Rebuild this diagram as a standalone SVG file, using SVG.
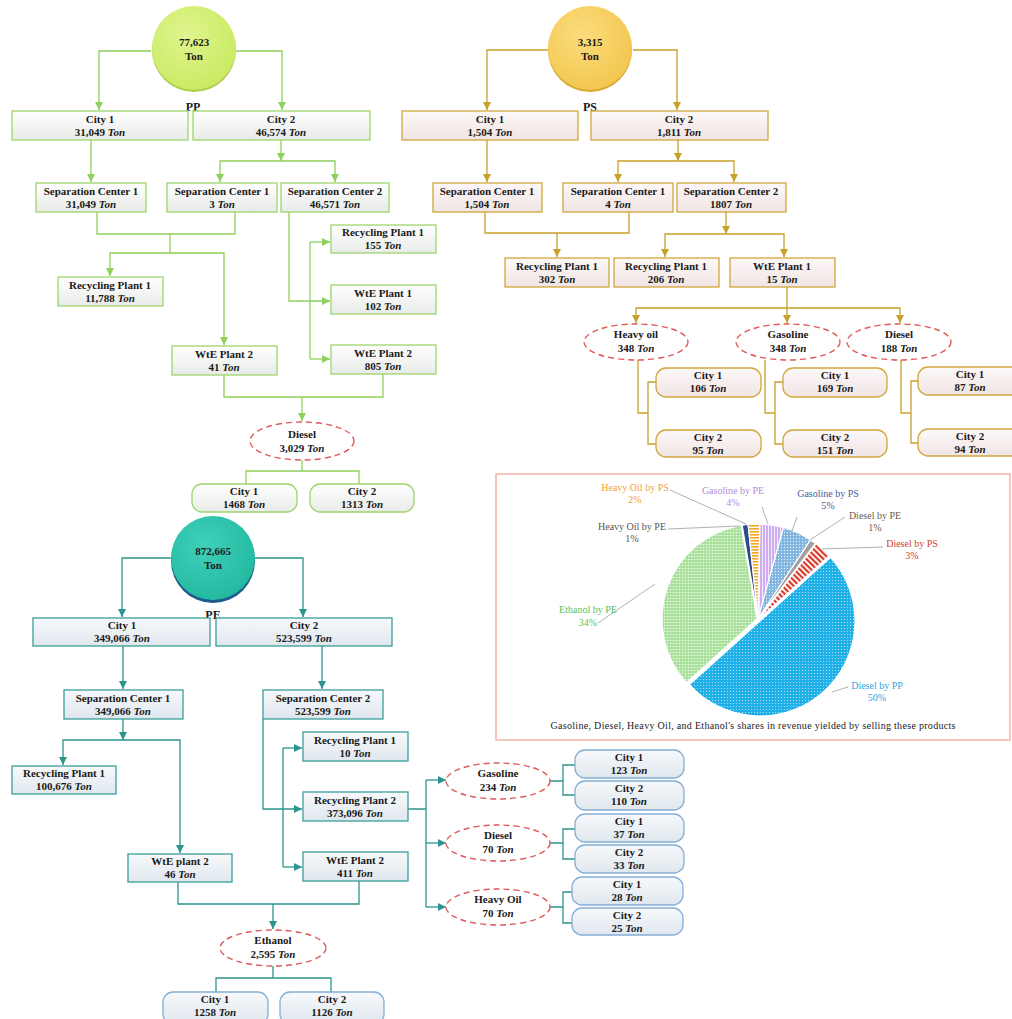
<svg xmlns="http://www.w3.org/2000/svg" width="1012" height="1019" viewBox="0 0 1012 1019">
<style>
.t{font-family:"Liberation Serif","Times New Roman",serif;font-weight:bold;font-size:11px;text-anchor:middle;fill:#1a1a1a}
.i{font-style:italic}
.lbl{font-family:"Liberation Serif","Times New Roman",serif;font-weight:bold;font-size:12px;text-anchor:middle;fill:#1a1a1a}
.pl{font-family:"Liberation Serif","Times New Roman",serif;font-size:10px;text-anchor:middle}
.bpp{fill:url(#gPP);stroke:#9fd46c;stroke-width:1.3}
.bps{fill:url(#gPS);stroke:#d2a63a;stroke-width:1.3}
.bpe{fill:url(#gPE);stroke:#3a9e9a;stroke-width:1.3}
.rpp{fill:url(#gPP);stroke:#9fd46c;stroke-width:1.3}
.rps{fill:url(#gPS);stroke:#d2a63a;stroke-width:1.3}
.rpe{fill:url(#gPE);stroke:#84aed6;stroke-width:1.3}
.cpp{fill:none;stroke:#8fd05a;stroke-width:1.3}
.cps{fill:none;stroke:#c9a02a;stroke-width:1.3}
.cpe{fill:none;stroke:#2b958d;stroke-width:1.3}
.ell{fill:#fff;stroke:#e05a5a;stroke-width:1.4;stroke-dasharray:6 4}
.lead{fill:none;stroke:#a8a8a8;stroke-width:0.9}
.sl{stroke:#fff;stroke-width:1.2}
</style>
<defs>
<linearGradient id="gPP" x1="0" y1="0" x2="0" y2="1"><stop offset="0" stop-color="#ffffff"/><stop offset="1" stop-color="#e8ebe8"/></linearGradient>
<linearGradient id="gPS" x1="0" y1="0" x2="0" y2="1"><stop offset="0" stop-color="#fdf8f8"/><stop offset="1" stop-color="#f0e4e4"/></linearGradient>
<linearGradient id="gPE" x1="0" y1="0" x2="0" y2="1"><stop offset="0" stop-color="#f7f9fb"/><stop offset="1" stop-color="#dfe7ee"/></linearGradient>
<radialGradient id="cPP" cx="0.4" cy="0.35" r="0.7"><stop offset="0" stop-color="#dff58e"/><stop offset="1" stop-color="#c9ea62"/></radialGradient>
<radialGradient id="cPS" cx="0.4" cy="0.35" r="0.7"><stop offset="0" stop-color="#fbdc7c"/><stop offset="1" stop-color="#f2c64e"/></radialGradient>
<radialGradient id="cPE" cx="0.4" cy="0.35" r="0.7"><stop offset="0" stop-color="#3fd0b8"/><stop offset="1" stop-color="#22b8a0"/></radialGradient>
<marker id="aPP" viewBox="0 0 10 10" refX="10" refY="5" markerWidth="8" markerHeight="8" orient="auto" markerUnits="userSpaceOnUse"><path d="M0,0L10,5L0,10z" fill="#8fd05a"/></marker>
<marker id="aPS" viewBox="0 0 10 10" refX="10" refY="5" markerWidth="8" markerHeight="8" orient="auto" markerUnits="userSpaceOnUse"><path d="M0,0L10,5L0,10z" fill="#c9a02a"/></marker>
<marker id="aPE" viewBox="0 0 10 10" refX="10" refY="5" markerWidth="8" markerHeight="8" orient="auto" markerUnits="userSpaceOnUse"><path d="M0,0L10,5L0,10z" fill="#2b958d"/></marker>
<pattern id="pPP" width="3" height="3" patternUnits="userSpaceOnUse"><rect width="3" height="3" fill="#1fb0e8"/><circle cx="1.5" cy="1.5" r="0.6" fill="#bfe8f8"/></pattern>
<pattern id="pEth" width="3" height="3" patternUnits="userSpaceOnUse"><rect width="3" height="3" fill="#a8e09a"/><circle cx="1.5" cy="1.5" r="0.8" fill="#f2fbef"/></pattern>
<pattern id="pGPS" width="3" height="3" patternUnits="userSpaceOnUse"><rect width="3" height="3" fill="#7fb4df"/><circle cx="1.5" cy="1.5" r="0.7" fill="#e8f2fb"/></pattern>
<pattern id="pGPE" width="3" height="3" patternUnits="userSpaceOnUse"><rect width="3" height="3" fill="#cfaef0"/><rect width="1" height="3" fill="#f4ecfc"/></pattern>
<pattern id="pHPS" width="3" height="3" patternUnits="userSpaceOnUse"><rect width="3" height="3" fill="#fff"/><rect width="3" height="1.6" fill="#f5a623"/></pattern>
<pattern id="pDPS" width="4" height="4" patternUnits="userSpaceOnUse" patternTransform="rotate(45)"><rect width="4" height="4" fill="#fff"/><rect width="4" height="2.2" fill="#d83a2a"/></pattern>
</defs>
<rect width="1012" height="1019" fill="#fff"/>

<g id="connectors">
<path class="cpp" d="M151,51H99V110" marker-end="url(#aPP)"/>
<path class="cpp" d="M235,51H282V110" marker-end="url(#aPP)"/>
<path class="cpp" d="M91,140V182" marker-end="url(#aPP)"/>
<path class="cpp" d="M281,140V161" marker-end="url(#aPP)"/>
<path class="cpp" d="M281,161H220V182" marker-end="url(#aPP)"/>
<path class="cpp" d="M281,161H335V182" marker-end="url(#aPP)"/>
<path class="cpp" d="M97,212V234H235V212"/>
<path class="cpp" d="M170,234V253H110V276" marker-end="url(#aPP)"/>
<path class="cpp" d="M170,253H224V345" marker-end="url(#aPP)"/>
<path class="cpp" d="M289,212V301H330" marker-end="url(#aPP)"/>
<path class="cpp" d="M310,242V359"/>
<path class="cpp" d="M310,242H330" marker-end="url(#aPP)"/>
<path class="cpp" d="M310,359H330" marker-end="url(#aPP)"/>
<path class="cpp" d="M224,375V397H383V374"/>
<path class="cpp" d="M302,397V421" marker-end="url(#aPP)"/>
<path class="cpp" d="M302,460V471M246,484V471H359V484"/>
<path class="cps" d="M548,50H487V110" marker-end="url(#aPS)"/>
<path class="cps" d="M633,50H677V110" marker-end="url(#aPS)"/>
<path class="cps" d="M487,140V182" marker-end="url(#aPS)"/>
<path class="cps" d="M678,140V161" marker-end="url(#aPS)"/>
<path class="cps" d="M678,161H618V182" marker-end="url(#aPS)"/>
<path class="cps" d="M678,161H734V182" marker-end="url(#aPS)"/>
<path class="cps" d="M485,212V233H629V212"/>
<path class="cps" d="M557,233V257" marker-end="url(#aPS)"/>
<path class="cps" d="M726,212V234" marker-end="url(#aPS)"/>
<path class="cps" d="M726,234H665V257" marker-end="url(#aPS)"/>
<path class="cps" d="M726,234H784V257" marker-end="url(#aPS)"/>
<path class="cps" d="M787,287V308"/>
<path class="cps" d="M787,308H636V323" marker-end="url(#aPS)"/>
<path class="cps" d="M787,308V323" marker-end="url(#aPS)"/>
<path class="cps" d="M787,308H900V323" marker-end="url(#aPS)"/>
<path class="cps" d="M638,360V413H648M656,382H648V444H656"/>
<path class="cps" d="M765,360V413H775M783,382H775V444H783"/>
<path class="cps" d="M901,360V413H911M918,381H911V443H918"/>
<path class="cpe" d="M171,558H122V617" marker-end="url(#aPE)"/>
<path class="cpe" d="M255,558H303V617" marker-end="url(#aPE)"/>
<path class="cpe" d="M123,646V689" marker-end="url(#aPE)"/>
<path class="cpe" d="M322,646V689" marker-end="url(#aPE)"/>
<path class="cpe" d="M123,719V740" marker-end="url(#aPE)"/>
<path class="cpe" d="M123,740H63V765" marker-end="url(#aPE)"/>
<path class="cpe" d="M123,740H180V853" marker-end="url(#aPE)"/>
<path class="cpe" d="M263,719V809H302" marker-end="url(#aPE)"/>
<path class="cpe" d="M283,748V867"/>
<path class="cpe" d="M283,748H302" marker-end="url(#aPE)"/>
<path class="cpe" d="M283,867H302" marker-end="url(#aPE)"/>
<path class="cpe" d="M408,809H426M426,780V907"/>
<path class="cpe" d="M426,780H446" marker-end="url(#aPE)"/>
<path class="cpe" d="M426,843H446" marker-end="url(#aPE)"/>
<path class="cpe" d="M426,907H446" marker-end="url(#aPE)"/>
<path class="cpe" d="M550,781H563M575,765H563V795H575"/>
<path class="cpe" d="M550,843H563M575,829H563V859H575"/>
<path class="cpe" d="M550,907H563M572,892H563V923H572"/>
<path class="cpe" d="M178,882V904H359V881"/>
<path class="cpe" d="M273,904V929" marker-end="url(#aPE)"/>
<path class="cpe" d="M273,966V978M216,992V978H331V992"/>
</g>

<g id="pp_source"><circle cx="194" cy="50" r="42" fill="#b0cc4c"/><circle cx="194" cy="48" r="42" fill="url(#cPP)"/><text class="t" x="194" y="46">77,623</text><text class="t" x="194" y="60">Ton</text><text class="lbl" x="193" y="111">PP</text></g>
<g id="pp_city1"><rect class="bpp" x="12" y="111" width="176" height="29"/><text class="t" x="100" y="123">City 1</text><text class="t" x="100" y="136">31,049 <tspan class="i">Ton</tspan></text></g>
<g id="pp_city2"><rect class="bpp" x="193" y="111" width="177" height="29"/><text class="t" x="281" y="123">City 2</text><text class="t" x="281" y="136">46,574 <tspan class="i">Ton</tspan></text></g>
<g id="pp_sc1a"><rect class="bpp" x="36" y="183" width="110" height="29"/><text class="t" x="91" y="195">Separation Center 1</text><text class="t" x="91" y="208">31,049 <tspan class="i">Ton</tspan></text></g>
<g id="pp_sc1b"><rect class="bpp" x="167" y="183" width="110" height="29"/><text class="t" x="222" y="195">Separation Center 1</text><text class="t" x="222" y="208">3 <tspan class="i">Ton</tspan></text></g>
<g id="pp_sc2"><rect class="bpp" x="281" y="183" width="108" height="29"/><text class="t" x="335" y="195">Separation Center 2</text><text class="t" x="335" y="208">46,571 <tspan class="i">Ton</tspan></text></g>
<g id="pp_rp1a"><rect class="bpp" x="58" y="277" width="105" height="29"/><text class="t" x="110" y="289">Recycling Plant 1</text><text class="t" x="110" y="302">11,788 <tspan class="i">Ton</tspan></text></g>
<g id="pp_wte2a"><rect class="bpp" x="172" y="346" width="105" height="29"/><text class="t" x="224" y="358">WtE Plant 2</text><text class="t" x="224" y="371">41 <tspan class="i">Ton</tspan></text></g>
<g id="pp_rp1b"><rect class="bpp" x="331" y="225" width="105" height="28"/><text class="t" x="383" y="236">Recycling Plant 1</text><text class="t" x="383" y="249">155 <tspan class="i">Ton</tspan></text></g>
<g id="pp_wte1"><rect class="bpp" x="331" y="285" width="105" height="29"/><text class="t" x="383" y="297">WtE Plant 1</text><text class="t" x="383" y="310">102 <tspan class="i">Ton</tspan></text></g>
<g id="pp_wte2b"><rect class="bpp" x="331" y="345" width="105" height="29"/><text class="t" x="383" y="357">WtE Plant 2</text><text class="t" x="383" y="370">805 <tspan class="i">Ton</tspan></text></g>
<g id="pp_diesel"><ellipse class="ell" cx="302" cy="441" rx="52" ry="19"/><text class="t" x="302" y="438">Diesel</text><text class="t" x="302" y="452">3,029 <tspan class="i">Ton</tspan></text></g>
<g id="pp_dc1"><rect class="rpp" x="192" y="484" width="105" height="28" rx="10"/><text class="t" x="244" y="495">City 1</text><text class="t" x="244" y="508">1468 <tspan class="i">Ton</tspan></text></g>
<g id="pp_dc2"><rect class="rpp" x="310" y="484" width="104" height="28" rx="10"/><text class="t" x="362" y="495">City 2</text><text class="t" x="362" y="508">1313 <tspan class="i">Ton</tspan></text></g>

<g id="ps_source"><circle cx="590" cy="50" r="42" fill="#d9a830"/><circle cx="590" cy="48" r="42" fill="url(#cPS)"/><text class="t" x="590" y="46">3,315</text><text class="t" x="590" y="60">Ton</text><text class="lbl" x="590" y="111">PS</text></g>
<g id="ps_city1"><rect class="bps" x="402" y="111" width="176" height="29"/><text class="t" x="490" y="123">City 1</text><text class="t" x="490" y="136">1,504 <tspan class="i">Ton</tspan></text></g>
<g id="ps_city2"><rect class="bps" x="591" y="111" width="177" height="29"/><text class="t" x="679" y="123">City 2</text><text class="t" x="679" y="136">1,811 <tspan class="i">Ton</tspan></text></g>
<g id="ps_sc1a"><rect class="bps" x="433" y="183" width="109" height="29"/><text class="t" x="487" y="195">Separation Center 1</text><text class="t" x="487" y="208">1,504 <tspan class="i">Ton</tspan></text></g>
<g id="ps_sc1b"><rect class="bps" x="563" y="183" width="110" height="29"/><text class="t" x="618" y="195">Separation Center 1</text><text class="t" x="618" y="208">4 <tspan class="i">Ton</tspan></text></g>
<g id="ps_sc2"><rect class="bps" x="677" y="183" width="109" height="29"/><text class="t" x="731" y="195">Separation Center 2</text><text class="t" x="731" y="208">1807 <tspan class="i">Ton</tspan></text></g>
<g id="ps_rp1a"><rect class="bps" x="505" y="258" width="104" height="29"/><text class="t" x="557" y="270">Recycling Plant 1</text><text class="t" x="557" y="283">302 <tspan class="i">Ton</tspan></text></g>
<g id="ps_rp1b"><rect class="bps" x="614" y="258" width="105" height="29"/><text class="t" x="666" y="270">Recycling Plant 1</text><text class="t" x="666" y="283">206 <tspan class="i">Ton</tspan></text></g>
<g id="ps_wte1"><rect class="bps" x="730" y="258" width="105" height="29"/><text class="t" x="782" y="270">WtE Plant 1</text><text class="t" x="782" y="283">15 <tspan class="i">Ton</tspan></text></g>
<g id="ps_heavy"><ellipse class="ell" cx="636" cy="342" rx="52" ry="18"/><text class="t" x="636" y="338">Heavy oil</text><text class="t" x="636" y="352">348 <tspan class="i">Ton</tspan></text></g>
<g id="ps_gasoline"><ellipse class="ell" cx="788" cy="342" rx="52" ry="18"/><text class="t" x="788" y="338">Gasoline</text><text class="t" x="788" y="352">348 <tspan class="i">Ton</tspan></text></g>
<g id="ps_diesel"><ellipse class="ell" cx="899" cy="342" rx="52" ry="18"/><text class="t" x="899" y="338">Diesel</text><text class="t" x="899" y="352">188 <tspan class="i">Ton</tspan></text></g>
<g id="ps_h1"><rect class="rps" x="656" y="368" width="105" height="29" rx="10"/><text class="t" x="708" y="379">City 1</text><text class="t" x="708" y="392">106 <tspan class="i">Ton</tspan></text></g>
<g id="ps_h2"><rect class="rps" x="656" y="430" width="105" height="27" rx="10"/><text class="t" x="708" y="441">City 2</text><text class="t" x="708" y="454">95 <tspan class="i">Ton</tspan></text></g>
<g id="ps_g1"><rect class="rps" x="783" y="368" width="104" height="29" rx="10"/><text class="t" x="835" y="379">City 1</text><text class="t" x="835" y="392">169 <tspan class="i">Ton</tspan></text></g>
<g id="ps_g2"><rect class="rps" x="783" y="430" width="104" height="27" rx="10"/><text class="t" x="835" y="441">City 2</text><text class="t" x="835" y="454">151 <tspan class="i">Ton</tspan></text></g>
<g id="ps_d1"><rect class="rps" x="918" y="367" width="104" height="28" rx="10"/><text class="t" x="970" y="378">City 1</text><text class="t" x="970" y="391">87 <tspan class="i">Ton</tspan></text></g>
<g id="ps_d2"><rect class="rps" x="918" y="429" width="104" height="27" rx="10"/><text class="t" x="970" y="440">City 2</text><text class="t" x="970" y="453">94 <tspan class="i">Ton</tspan></text></g>

<g id="pie_chart">
<rect x="496" y="474" width="514" height="266" fill="#fff" stroke="#f4b4a4" stroke-width="1.5"/>
<path class="sl" fill="url(#pPP)" d="M760,621L830.6,557.4A95,95 0 0 1 689.4,684.6Z"/>
<path class="sl" fill="url(#pEth)" d="M757,619L686.4,682.6A95,95 0 0 1 741.2,525.3Z"/>
<path class="sl" fill="#2e4a8a" d="M758,619L742.2,525.3A95,95 0 0 1 748.1,524.5Z"/>
<path class="sl" fill="url(#pHPS)" d="M758,619L748.1,524.5A95,95 0 0 1 760,524Z"/>
<path class="sl" fill="url(#pGPE)" d="M758,619L760,524A95,95 0 0 1 783.5,527.5Z"/>
<path class="sl" fill="url(#pGPS)" d="M758,619L783.5,527.5A95,95 0 0 1 810.6,539.9Z"/>
<path class="sl" fill="#a0a0a0" d="M758,619L810.6,539.9A95,95 0 0 1 815.4,543.3Z"/>
<path class="sl" fill="url(#pDPS)" d="M759,619L816.4,543.3A95,95 0 0 1 829.6,555.4Z"/>
<path class="lead" d="M670,490L746,524"/>
<path class="lead" d="M762,507L768,524"/>
<path class="lead" d="M797,517L792,531"/>
<path class="lead" d="M845,517L810,540"/>
<path class="lead" d="M883,547L822,549"/>
<path class="lead" d="M668,529L740,526"/>
<path class="lead" d="M598,623L655,584"/>
<path class="lead" d="M848,687L832,692"/>
<text class="pl" x="635" y="491" fill="#f3a02e">Heavy Oil  by PS</text><text class="pl" x="635" y="503" fill="#f3a02e">2%</text>
<text class="pl" x="733" y="494" fill="#b58ad8">Gasoline  by PE</text><text class="pl" x="733" y="506" fill="#b58ad8">4%</text>
<text class="pl" x="828" y="497" fill="#4b5a9e">Gasoline  by PS</text><text class="pl" x="828" y="509" fill="#4b5a9e">5%</text>
<text class="pl" x="875" y="519" fill="#6b5b4b">Diesel by PE</text><text class="pl" x="875" y="531" fill="#6b5b4b">1%</text>
<text class="pl" x="912" y="547" fill="#d04030">Diesel by PS</text><text class="pl" x="912" y="559" fill="#d04030">3%</text>
<text class="pl" x="632" y="530" fill="#555">Heavy Oil  by PE</text><text class="pl" x="632" y="542" fill="#555">1%</text>
<text class="pl" x="588" y="613" fill="#5cbf5c">Ethanol by PE</text><text class="pl" x="588" y="626" fill="#5cbf5c">34%</text>
<text class="pl" x="877" y="689" fill="#2ea6e0">Diesel by PP</text><text class="pl" x="877" y="701" fill="#2ea6e0">50%</text>
<text class="pl" x="753" y="729" fill="#222" textLength="405" lengthAdjust="spacing">Gasoline, Diesel, Heavy Oil, and Ethanol's shares in revenue yielded  by selling  these products</text>
</g>

<g id="pe_source"><circle cx="213" cy="561" r="42" fill="#1e5a8c"/><circle cx="213" cy="558" r="42" fill="url(#cPE)"/><text class="t" x="213" y="555">872,665</text><text class="t" x="213" y="569">Ton</text><text class="lbl" x="213" y="619">PE</text></g>
<g id="pe_city1"><rect class="bpe" x="33" y="618" width="177" height="28"/><text class="t" x="122" y="629">City 1</text><text class="t" x="122" y="642">349,066 <tspan class="i">Ton</tspan></text></g>
<g id="pe_city2"><rect class="bpe" x="216" y="618" width="176" height="28"/><text class="t" x="304" y="629">City 2</text><text class="t" x="304" y="642">523,599 <tspan class="i">Ton</tspan></text></g>
<g id="pe_sc1"><rect class="bpe" x="64" y="690" width="119" height="29"/><text class="t" x="123" y="702">Separation Center 1</text><text class="t" x="123" y="715">349,066 <tspan class="i">Ton</tspan></text></g>
<g id="pe_sc2"><rect class="bpe" x="263" y="690" width="120" height="29"/><text class="t" x="323" y="702">Separation Center 2</text><text class="t" x="323" y="715">523,599 <tspan class="i">Ton</tspan></text></g>
<g id="pe_rp1a"><rect class="bpe" x="12" y="766" width="104" height="28"/><text class="t" x="64" y="777">Recycling Plant 1</text><text class="t" x="64" y="790">100,676 <tspan class="i">Ton</tspan></text></g>
<g id="pe_wte2a"><rect class="bpe" x="128" y="854" width="104" height="28"/><text class="t" x="180" y="865">WtE plant 2</text><text class="t" x="180" y="878">46 <tspan class="i">Ton</tspan></text></g>
<g id="pe_rp1b"><rect class="bpe" x="303" y="732" width="105" height="29"/><text class="t" x="355" y="744">Recycling Plant 1</text><text class="t" x="355" y="757">10 <tspan class="i">Ton</tspan></text></g>
<g id="pe_rp2"><rect class="bpe" x="303" y="792" width="105" height="29"/><text class="t" x="355" y="804">Recycling Plant 2</text><text class="t" x="355" y="817">373,096 <tspan class="i">Ton</tspan></text></g>
<g id="pe_wte2b"><rect class="bpe" x="303" y="852" width="105" height="29"/><text class="t" x="355" y="864">WtE Plant 2</text><text class="t" x="355" y="877">411 <tspan class="i">Ton</tspan></text></g>
<g id="pe_gasoline"><ellipse class="ell" cx="498" cy="781" rx="52" ry="18"/><text class="t" x="498" y="777">Gasoline</text><text class="t" x="498" y="791">234 <tspan class="i">Ton</tspan></text></g>
<g id="pe_diesel"><ellipse class="ell" cx="498" cy="843" rx="52" ry="18"/><text class="t" x="498" y="839">Diesel</text><text class="t" x="498" y="853">70 <tspan class="i">Ton</tspan></text></g>
<g id="pe_heavy"><ellipse class="ell" cx="498" cy="907" rx="52" ry="18"/><text class="t" x="498" y="903">Heavy Oil</text><text class="t" x="498" y="917">70 <tspan class="i">Ton</tspan></text></g>
<g id="pe_g1"><rect class="rpe" x="575" y="750" width="109" height="28" rx="10"/><text class="t" x="629" y="761">City 1</text><text class="t" x="629" y="774">123 <tspan class="i">Ton</tspan></text></g>
<g id="pe_g2"><rect class="rpe" x="575" y="781" width="109" height="29" rx="10"/><text class="t" x="629" y="792">City 2</text><text class="t" x="629" y="805">110 <tspan class="i">Ton</tspan></text></g>
<g id="pe_d1"><rect class="rpe" x="575" y="814" width="109" height="28" rx="10"/><text class="t" x="629" y="825">City 1</text><text class="t" x="629" y="838">37 <tspan class="i">Ton</tspan></text></g>
<g id="pe_d2"><rect class="rpe" x="575" y="845" width="109" height="28" rx="10"/><text class="t" x="629" y="856">City 2</text><text class="t" x="629" y="869">33 <tspan class="i">Ton</tspan></text></g>
<g id="pe_h1"><rect class="rpe" x="572" y="877" width="111" height="28" rx="10"/><text class="t" x="627" y="888">City 1</text><text class="t" x="627" y="901">28 <tspan class="i">Ton</tspan></text></g>
<g id="pe_h2"><rect class="rpe" x="572" y="908" width="111" height="27" rx="10"/><text class="t" x="627" y="919">City 2</text><text class="t" x="627" y="932">25 <tspan class="i">Ton</tspan></text></g>
<g id="pe_ethanol"><ellipse class="ell" cx="273" cy="948" rx="53" ry="18"/><text class="t" x="273" y="944">Ethanol</text><text class="t" x="273" y="958">2,595 <tspan class="i">Ton</tspan></text></g>
<g id="pe_e1"><rect class="rpe" x="163" y="992" width="105" height="32" rx="10"/><text class="t" x="215" y="1003">City 1</text><text class="t" x="215" y="1016">1258 <tspan class="i">Ton</tspan></text></g>
<g id="pe_e2"><rect class="rpe" x="280" y="992" width="104" height="32" rx="10"/><text class="t" x="332" y="1003">City 2</text><text class="t" x="332" y="1016">1126 <tspan class="i">Ton</tspan></text></g>
</svg>
